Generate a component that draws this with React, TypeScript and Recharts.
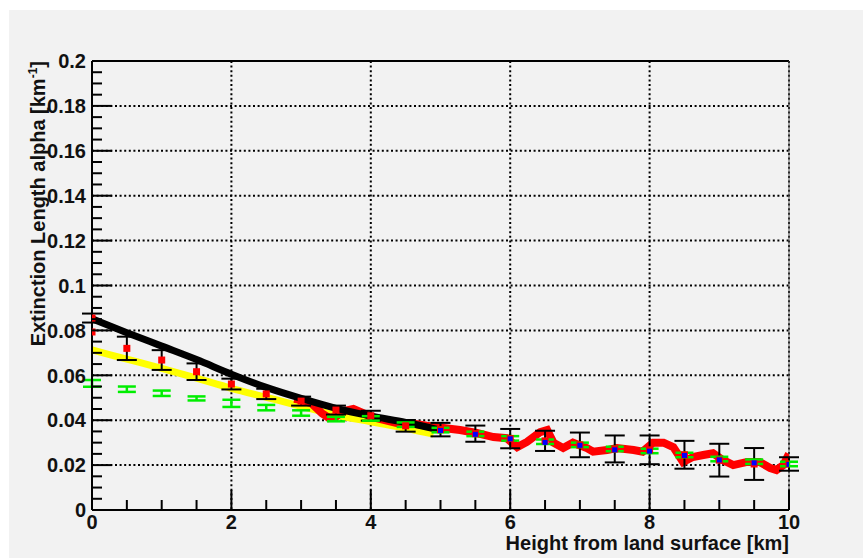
import React from "react"
import { ComposedChart, Line, Scatter, XAxis, YAxis, CartesianGrid, ReferenceLine, ErrorBar } from "recharts"

// smooth fit curves (black, yellow)
const BLACK_X = [0, 0.5, 1, 1.5, 2, 2.5, 3, 3.5, 4, 4.5, 5]
const BLACK_Y = [0.0852, 0.079, 0.073, 0.067, 0.0605, 0.0546, 0.0497, 0.0453, 0.0419, 0.039, 0.0356]

const YELLOW_X = [0, 0.5, 1, 1.5, 2, 2.5, 3, 3.5, 4, 4.5, 4.9]
const YELLOW_Y = [0.0713, 0.0672, 0.0631, 0.0587, 0.0542, 0.0502, 0.0462, 0.0423, 0.0393, 0.0364, 0.0338]

// dense red measurement
const RED_X = [2.9, 3.0, 3.15, 3.3, 3.4, 3.5, 3.6, 3.75, 3.9, 4.0, 4.2, 4.4, 4.6, 4.8, 5.04, 5.28, 5.52, 5.76, 5.95, 6.1, 6.24, 6.43, 6.53, 6.62, 6.76, 6.9, 7.1, 7.19, 7.39, 7.53, 7.77, 7.9, 8.05, 8.2, 8.34, 8.48, 8.62, 8.77, 8.91, 9.05, 9.2, 9.4, 9.58, 9.73, 9.82, 9.92, 10]
const RED_Y = [0.0495, 0.049, 0.0475, 0.043, 0.041, 0.0415, 0.044, 0.045, 0.043, 0.0415, 0.04, 0.0385, 0.0385, 0.0375, 0.0365, 0.0356, 0.0343, 0.0325, 0.032, 0.028, 0.0303, 0.0347, 0.0356, 0.03, 0.0276, 0.03, 0.0276, 0.026, 0.0267, 0.0276, 0.0267, 0.026, 0.03, 0.03, 0.028, 0.0214, 0.0236, 0.0245, 0.0253, 0.0223, 0.02, 0.0214, 0.0214, 0.0187, 0.0178, 0.02, 0.025]

// binned points every 0.5 km
const BIN_X = [0, 0.5, 1, 1.5, 2, 2.5, 3, 3.5, 4, 4.5, 5, 5.5, 6, 6.5, 7, 7.5, 8, 8.5, 9, 9.5, 10]
const REF_Y = [0.0855, 0.072, 0.0668, 0.0616, 0.0561, 0.0517, 0.0485, 0.0445, 0.042, 0.0375, 0.0358, 0.034, 0.0318, 0.0308, 0.029, 0.0272, 0.0268, 0.0246, 0.0222, 0.0205, 0.0205]
const REF_ERR = [0.002, 0.0052, 0.0044, 0.0037, 0.0024, 0.0023, 0.002, 0.002, 0.0022, 0.0026, 0.003, 0.0036, 0.0043, 0.0045, 0.0055, 0.006, 0.0064, 0.0062, 0.0073, 0.0071, 0.003]
const GREEN_Y = [0.0564, 0.0538, 0.052, 0.0497, 0.0475, 0.0456, 0.0432, 0.0405, 0.0408, 0.038, 0.0356, 0.0339, 0.0319, 0.0304, 0.029, 0.0272, 0.0263, 0.0245, 0.0227, 0.0215, 0.0205]
const GREEN_ERR = [0.0015, 0.0012, 0.0012, 0.0009, 0.0016, 0.0012, 0.0012, 0.001, 0.001, 0.001, 0.001, 0.001, 0.001, 0.001, 0.001, 0.001, 0.001, 0.001, 0.001, 0.001, 0.001]

const BLUE_X = [5, 5.5, 6, 6.5, 7, 7.5, 8, 8.5, 9, 9.5, 10]
const BLUE_Y = [0.0354, 0.0337, 0.0317, 0.0301, 0.0288, 0.0268, 0.0262, 0.0243, 0.0223, 0.021, 0.0203]

const EXTRA_X = [0]
const EXTRA_Y = [0.0793]

const X_TICKS = BIN_X
const X_MAJOR = [0, 2, 4, 6, 8, 10]
const Y_MAJOR = [0, 0.02, 0.04, 0.06, 0.08, 0.1, 0.12, 0.14, 0.16, 0.18, 0.2]
const Y_TICKS = Array.from({ length: 41 }, (_, i) => Math.round(i * 5) / 1000)

const zip = (xs: number[], ys: number[], es?: number[]) =>
  xs.map((x, i) => ({ x, y: ys[i], e: es ? es[i] : 0 }))

const blackData = zip(BLACK_X, BLACK_Y)
const yellowData = zip(YELLOW_X, YELLOW_Y)
const redData = zip(RED_X, RED_Y)
const refData = zip(BIN_X, REF_Y, REF_ERR)
const greenData = zip(BIN_X, GREEN_Y, GREEN_ERR)
const blueData = zip(BLUE_X, BLUE_Y)
const extraData = zip(EXTRA_X, EXTRA_Y)

const W = 854
const H = 548
const LEFT = 83
const BOTTOM = 500
const FONT = "'Liberation Sans', Arial, Helvetica, sans-serif"
const FS = 20

const isMajor = (list: number[], v: number) => list.some((m) => Math.abs(m - v) < 1e-9)

const YTick = (props: any) => {
  const { y, payload } = props
  const major = isMajor(Y_MAJOR, payload.value)
  return (
    <g>
      <line x1={LEFT} x2={LEFT + (major ? 20 : 10)} y1={y} y2={y} stroke="#000" strokeWidth={2} />
      {major && (
        <text x={LEFT - 6} y={y} dy="0.36em" textAnchor="end" fontFamily={FONT} fontWeight="bold" fontSize={FS} fill="#111">
          {String(payload.value)}
        </text>
      )}
    </g>
  )
}

const XTick = (props: any) => {
  const { x, payload } = props
  const major = isMajor(X_MAJOR, payload.value)
  return (
    <g>
      <line x1={x} x2={x} y1={BOTTOM} y2={BOTTOM - (major ? 20 : 10)} stroke="#000" strokeWidth={2} />
      {major && (
        <text x={x} y={BOTTOM + 19} textAnchor="middle" fontFamily={FONT} fontWeight="bold" fontSize={FS} fill="#111">
          {String(payload.value)}
        </text>
      )}
    </g>
  )
}

const square = (size: number, color: string) => (props: any) => {
  const { cx, cy } = props
  if (cx == null || cy == null) return <g />
  return <rect x={cx - size / 2} y={cy - size / 2} width={size} height={size} fill={color} />
}

const noMarker = () => <g />

export default function App() {
  return (
    <div style={{ position: "absolute", left: 9, top: 10, width: W, height: H, background: "#f2f2f2" }}>
      <ComposedChart width={W} height={H} margin={{ top: 51, right: 74, bottom: 18, left: 0 }}>
        <CartesianGrid
          horizontalValues={Y_MAJOR.slice(1)}
          verticalValues={X_MAJOR.slice(1)}
          stroke="#000"
          strokeWidth={2}
          strokeDasharray="2 2.6"
        />
        <XAxis
          type="number"
          dataKey="x"
          domain={[0, 10]}
          ticks={X_TICKS}
          interval={0}
          allowDataOverflow
          tick={<XTick />}
          tickLine={false}
          tickSize={0}
          height={30}
          axisLine={{ stroke: "#000", strokeWidth: 2 }}
        />
        <YAxis
          type="number"
          dataKey="y"
          domain={[0, 0.2]}
          ticks={Y_TICKS}
          interval={0}
          allowDataOverflow
          tick={<YTick />}
          tickLine={false}
          tickSize={0}
          width={LEFT}
          axisLine={{ stroke: "#000", strokeWidth: 2 }}
        />
        <ReferenceLine y={0.2} stroke="#000" strokeWidth={2} />
        <ReferenceLine x={10} stroke="#555" strokeWidth={1} />
        <Line data={yellowData} dataKey="y" type="monotone" stroke="#ffff00" strokeWidth={7} dot={false} isAnimationActive={false} />
        <Line data={redData} dataKey="y" type="linear" stroke="#ff0000" strokeWidth={8} dot={false} isAnimationActive={false} />
        <Line data={blackData} dataKey="y" type="monotone" stroke="#000" strokeWidth={7} dot={false} isAnimationActive={false} />
        <Scatter data={refData} dataKey="y" shape={square(7, "#ff0000")} isAnimationActive={false}>
          <ErrorBar dataKey="e" direction="y" width={10} stroke="#000" strokeWidth={2} isAnimationActive={false} />
        </Scatter>
        <Scatter data={extraData} dataKey="y" shape={square(7, "#ff0000")} isAnimationActive={false} />
        <Scatter data={greenData} dataKey="y" shape={noMarker} isAnimationActive={false}>
          <ErrorBar dataKey="e" direction="y" width={9} stroke="#00ee00" strokeWidth={2.5} isAnimationActive={false} />
        </Scatter>
        <Scatter data={blueData} dataKey="y" shape={square(5, "#0000ff")} isAnimationActive={false} />
      </ComposedChart>
      <svg width={W} height={H} style={{ position: "absolute", left: 0, top: 0, pointerEvents: "none" }}>
        <text x={780} y={540} textAnchor="end" fontFamily={FONT} fontWeight="bold" fontSize={FS} fill="#111">
          Height from land surface [km]
        </text>
        <text transform="translate(36,51) rotate(-90)" textAnchor="end" fontFamily={FONT} fontWeight="bold" fontSize={FS} fill="#111">
          Extinction Length alpha [km
          <tspan fontSize={12} dy={-8}>-1</tspan>
          <tspan dy={8}>]</tspan>
        </text>
      </svg>
    </div>
  )
}
